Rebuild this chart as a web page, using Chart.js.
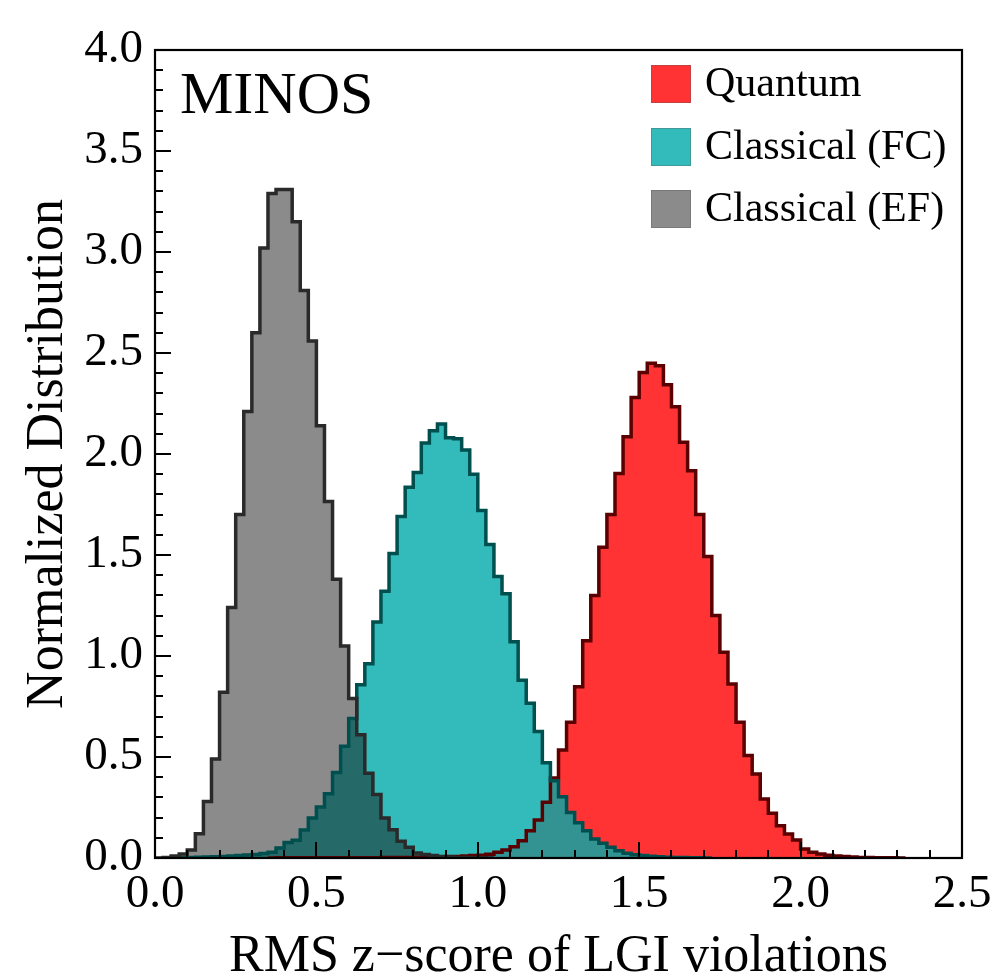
<!DOCTYPE html>
<html>
<head>
<meta charset="utf-8">
<script src="https://cdn.jsdelivr.net/npm/chart.js@4.4.1/dist/chart.umd.min.js"></script>
<style>
html,body{margin:0;padding:0;background:#ffffff;}
#wrap{width:996px;height:979px;position:relative;}
canvas{display:block;}
</style>
</head>
<body>
<div id="wrap"><canvas id="c" width="996" height="979"></canvas></div>
<script>
// ---- data ----
const BIN_WIDTH = 0.025;           // histogram bin width (x units)
const seriesLabels = ['Quantum', 'Classical (FC)', 'Classical (EF)'];

// bin k covers [k*BIN_WIDTH, (k+1)*BIN_WIDTH); null = outside the histogram range
const quantum = [
  null, null, null, null, null, null, null, null, null, null,
  null, null, null, null, 0.000, 0.001, 0.001, 0.001, 0.001, 0.001,
  0.001, 0.001, 0.001, 0.001, 0.001, 0.001, 0.001, 0.001, 0.002, 0.002,
  0.003, 0.003, 0.004, 0.004, 0.005, 0.006, 0.007, 0.008, 0.010, 0.012,
  0.014, 0.018, 0.028, 0.040, 0.056, 0.086, 0.135, 0.188, 0.276, 0.396,
  0.535, 0.672, 0.848, 1.076, 1.299, 1.538, 1.700, 1.904, 2.086, 2.280,
  2.404, 2.449, 2.437, 2.343, 2.234, 2.058, 1.917, 1.700, 1.492, 1.200,
  1.018, 0.861, 0.672, 0.507, 0.416, 0.292, 0.221, 0.160, 0.119, 0.089,
  0.045, 0.028, 0.020, 0.014, 0.010, 0.007, 0.005, 0.003, 0.002, 0.001,
  0.001, 0.001, 0.000, null, null, null, null, null, null, null
];
const classicalFC = [
  null, null, 0.000, 0.002, 0.003, 0.004, 0.005, 0.006, 0.008, 0.010,
  0.012, 0.015, 0.017, 0.022, 0.028, 0.050, 0.077, 0.088, 0.139, 0.198,
  0.252, 0.318, 0.423, 0.553, 0.690, 0.858, 0.962, 1.168, 1.320, 1.507,
  1.690, 1.835, 1.909, 2.054, 2.115, 2.148, 2.080, 2.075, 2.020, 1.900,
  1.720, 1.552, 1.393, 1.308, 1.071, 0.880, 0.766, 0.626, 0.472, 0.382,
  0.303, 0.225, 0.175, 0.135, 0.094, 0.073, 0.053, 0.036, 0.023, 0.016,
  0.012, 0.009, 0.006, 0.004, 0.003, 0.002, 0.001, 0.001, 0.000, null,
  null, null, null, null, null, null, null, null, null, null,
  null, null, null, null, null, null, null, null, null, null,
  null, null, null, null, null, null, null, null, null, null
];
const classicalEF = [
  0.000, 0.003, 0.010, 0.020, 0.040, 0.120, 0.280, 0.490, 0.820, 1.240,
  1.700, 2.210, 2.600, 3.020, 3.290, 3.310, 3.310, 3.150, 2.810, 2.560,
  2.140, 1.765, 1.380, 1.050, 0.790, 0.610, 0.420, 0.314, 0.198, 0.140,
  0.083, 0.053, 0.025, 0.017, 0.012, 0.008, 0.005, 0.003, 0.002, 0.001,
  0.001, 0.000, null, null, null, null, null, null, null, null,
  null, null, null, null, null, null, null, null, null, null,
  null, null, null, null, null, null, null, null, null, null,
  null, null, null, null, null, null, null, null, null, null,
  null, null, null, null, null, null, null, null, null, null,
  null, null, null, null, null, null, null, null, null, null
];

const xTickLabels = ['0.0', '0.5', '1.0', '1.5', '2.0', '2.5'];
const yTickLabels = ['0.0', '0.5', '1.0', '1.5', '2.0', '2.5', '3.0', '3.5', '4.0'];
const panelLabel = 'MINOS';
const xTitle = 'RMS z\u2212score of LGI violations';
const yTitle = 'Normalized Distribution';

// ---- styles ----
const FONT = '"Liberation Serif", "Times New Roman", Times, serif';
const fillColors = ['rgba(255,0,0,0.8)', 'rgba(0,170,170,0.8)', 'rgba(23,23,23,0.5)'];
const edgeColors = ['#5a0000', '#004f4f', '#2a2a2a'];

function histPoints(values) {
  const first = values.findIndex(v => v !== null);
  let last = values.length - 1;
  while (values[last] === null) last--;
  const pts = [{x: first * BIN_WIDTH, y: 0}];
  for (let i = first; i <= last; i++) pts.push({x: i * BIN_WIDTH, y: values[i]});
  pts.push({x: (last + 1) * BIN_WIDTH, y: values[last]});
  pts.push({x: (last + 1) * BIN_WIDTH, y: 0});
  return pts;
}

const allSeries = [quantum, classicalFC, classicalEF];
const datasets = [];
// fills: red bottom, teal middle, gray top (higher order drawn first)
allSeries.forEach((s, i) => {
  datasets.push({
    label: seriesLabels[i], data: histPoints(s), stepped: 'before',
    fill: 'origin', backgroundColor: fillColors[i],
    borderColor: 'rgba(0,0,0,0)', borderWidth: 0.0001, pointRadius: 0,
    order: 6 - i, isFill: true
  });
});
// outlines on top of all fills
allSeries.forEach((s, i) => {
  datasets.push({
    label: seriesLabels[i] + ' edge', data: histPoints(s), stepped: 'before',
    fill: false, borderColor: edgeColors[i], borderWidth: 3.5, pointRadius: 0,
    order: 3 - i, isFill: false
  });
});

const decorPlugin = {
  id: 'decor',
  afterDatasetsDraw(chart) {
    const {ctx, chartArea: a, scales: {x, y}} = chart;
    ctx.save();
    ctx.strokeStyle = '#000';
    ctx.lineWidth = 2;
    // inward ticks, bottom and left
    for (let k = 1; k < 25; k++) {
      const v = k / 10;
      const px = Math.round(x.getPixelForValue(v));
      const len = (k % 5 === 0) ? 16 : 8;
      ctx.beginPath(); ctx.moveTo(px, a.bottom); ctx.lineTo(px, a.bottom - len); ctx.stroke();
    }
    for (let k = 1; k < 40; k++) {
      const v = k / 10;
      const py = Math.round(y.getPixelForValue(v));
      const len = (k % 5 === 0) ? 16 : 8;
      ctx.beginPath(); ctx.moveTo(a.left, py); ctx.lineTo(a.left + len, py); ctx.stroke();
    }
    // frame
    ctx.lineWidth = 2.2;
    ctx.strokeRect(a.left, a.top, a.right - a.left, a.bottom - a.top);
    // panel label
    ctx.fillStyle = '#000';
    ctx.font = '60px ' + FONT;
    ctx.textAlign = 'left';
    ctx.textBaseline = 'alphabetic';
    ctx.fillText(panelLabel, 180, 113);
    // legend
    const rows = [84, 147, 209];
    ctx.font = '42px ' + FONT;
    ctx.textBaseline = 'middle';
    chart.data.datasets.filter(d => d.isFill).forEach((d, i) => {
      const cy = rows[i];
      ctx.fillStyle = d.backgroundColor;
      ctx.fillRect(651, cy - 19, 40, 38);
      ctx.lineWidth = 1;
      ctx.strokeStyle = 'rgba(90,90,90,0.35)';
      ctx.strokeRect(651.5, cy - 18.5, 39, 37);
      ctx.fillStyle = '#000';
      ctx.fillText(d.label, 705, cy + 1);
    });
    ctx.restore();
  }
};

function build() {
  new Chart(document.getElementById('c'), {
    type: 'line',
    data: {datasets},
    options: {
      responsive: false,
      animation: false,
      devicePixelRatio: 1,
      layout: {padding: {left: 0, right: 34, top: 50, bottom: 0}},
      plugins: {legend: {display: false}, tooltip: {enabled: false}},
      elements: {line: {tension: 0}},
      scales: {
        x: {
          type: 'linear', min: 0, max: 2.5,
          grid: {display: false, drawTicks: false},
          border: {display: false},
          ticks: {
            stepSize: 0.5, autoSkip: false, maxRotation: 0, padding: 8,
            color: '#000', font: {family: FONT, size: 47},
            callback: v => xTickLabels[Math.round(v / 0.5)]
          },
          title: {display: true, text: xTitle, color: '#000',
                  font: {family: FONT, size: 52, lineHeight: 0.85}, padding: 0},
          afterFit: s => { s.height = 121; s.paddingLeft = 0; s.paddingRight = 0; }
        },
        y: {
          type: 'linear', min: 0, max: 4,
          grid: {display: false, drawTicks: false},
          border: {display: false},
          ticks: {
            stepSize: 0.5, autoSkip: false, padding: 12,
            color: '#000', font: {family: FONT, size: 47},
            callback: v => yTickLabels[Math.round(v / 0.5)]
          },
          title: {display: true, text: yTitle, color: '#000',
                  font: {family: FONT, size: 52, lineHeight: 1.2}, padding: {top: 17, bottom: 0}},
          afterFit: s => { s.width = 155; s.paddingTop = 0; s.paddingBottom = 0; }
        }
      }
    },
    plugins: [decorPlugin]
  });
}
if (document.fonts && document.fonts.load) {
  document.fonts.load('47px "Liberation Serif"').then(build, build);
} else { build(); }
</script>
</body>
</html>
